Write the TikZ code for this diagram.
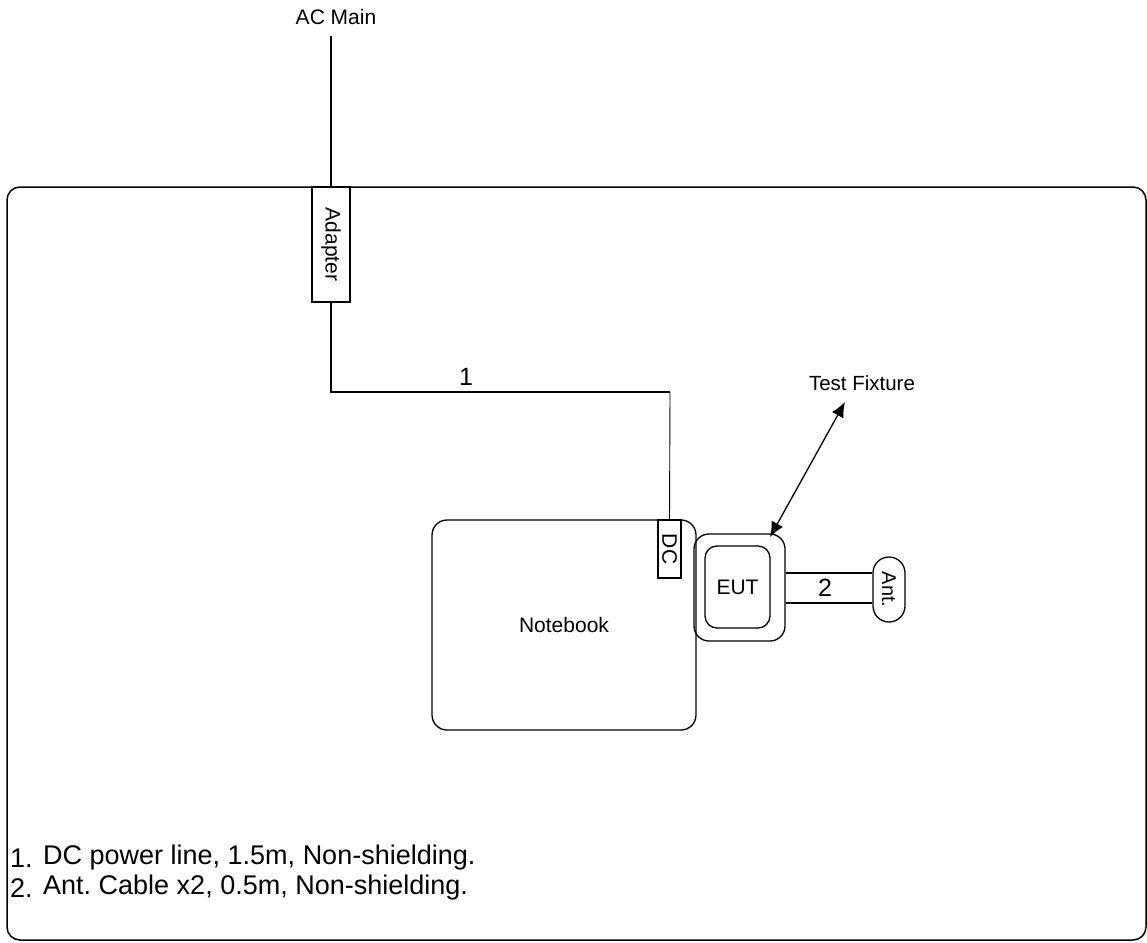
\documentclass[tikz,border=0pt]{standalone}
\usepackage{fontspec}
\usepackage{graphicx}
\setmainfont{Liberation Sans}
\frenchspacing
\usetikzlibrary{arrows.meta,calc}
\begin{document}
\begin{tikzpicture}[x=1pt,y=-1pt,
  lbl/.style={inner sep=0pt,font=\fontsize{21}{25}\selectfont},
  big/.style={inner sep=0pt,font=\fontsize{25}{30}\selectfont},
  note/.style={inner sep=0pt,anchor=west,font=\fontsize{27}{31}\selectfont},
  boxx/.style={draw,line width=1.3pt,inner sep=0pt,font=\fontsize{21}{25}\selectfont},
  wire/.style={line width=1.3pt},
  thinwire/.style={line width=0.9pt},
  arr/.style={line width=1.3pt,{Latex[length=15pt,width=13pt]}-{Latex[length=15pt,width=13pt]}}
]
\useasboundingbox (0,0) rectangle (1147,942);
% outer frame
\draw[line width=1.5pt,rounded corners=13pt] (7,187) rectangle (1146,940);
% AC main
\node[lbl] (ac) at (336,17) {AC Main};
\coordinate (actop) at (331,36);
\node[boxx,fill=white,minimum width=38pt,minimum height=115pt] (adapter) at (331,244.5) {\rotatebox{-90}{Adapter}};
\draw[wire] (actop) -- (adapter.north);
% notebook
\node[boxx,rounded corners=15pt,minimum width=264pt,minimum height=210pt] (nb) at (564,625) {Notebook};
\node[boxx,fill=white,minimum width=23pt,minimum height=58pt] (dc) at (669.5,549) {\rotatebox{-90}{DC}};
\draw[wire] (adapter.south) -- (331,392) -- (670,392);
\draw[thinwire] (670,392) -- (dc.north);
\node[big] (l1) at (466,376.5) {1};
% EUT
\node[boxx,rounded corners=15pt,minimum width=91pt,minimum height=107pt] (eutout) at (739.5,587.5) {};
\node[boxx,rounded corners=12pt,minimum width=65pt,minimum height=82pt] (eut) at (737.5,587) {EUT};
\node[boxx,rounded corners=16pt,minimum width=32pt,minimum height=65pt] (ant) at (889,589.5) {\fontsize{20}{24}\selectfont\rotatebox{-90}{Ant.}};
\draw[wire] (eutout.east |- 0,573) -- (ant.west |- 0,573);
\draw[wire] (eutout.east |- 0,603) -- (ant.west |- 0,603);
\node[big] (l2) at (825,588) {2};
% test fixture
\node[lbl,font=\fontsize{20.5}{24}\selectfont] (tf) at (862,383) {Test Fixture};
\coordinate (tftip) at (845,402);
\coordinate (euttip) at (770,537);
\draw[arr] (euttip) -- (tftip);
% notes
\node[note] (n1a) at (10,858) {1.};
\node[note] (n1b) at (43,858) {DC power line, 1.5m, Non-shielding.};
\node[note] (n2a) at (10,888) {2.};
\node[note] (n2b) at (43,888) {Ant. Cable x2, 0.5m, Non-shielding.};
\end{tikzpicture}
\end{document}
